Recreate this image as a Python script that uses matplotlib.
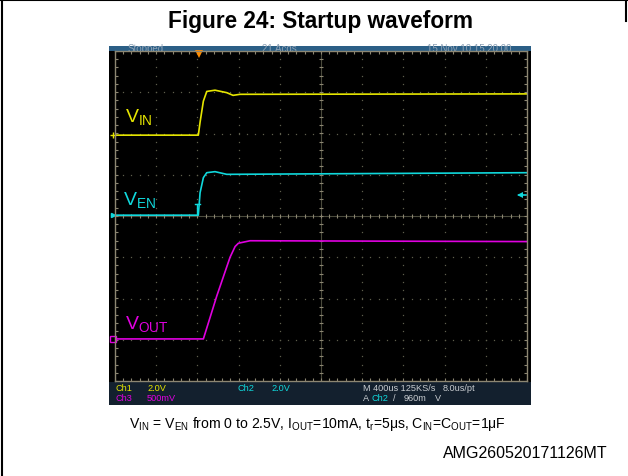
import numpy as np
import matplotlib.pyplot as plt
from matplotlib.patches import Rectangle

plt.rcParams['font.family'] = ['Liberation Sans', 'DejaVu Sans']
plt.rcParams['mathtext.default'] = 'regular'

# scope settings
time_per_div = 400.0          # us / div
t_left = -816.0               # us at left edge of the graticule (trigger = 0)
ch1_scale, ch2_scale, ch3_scale = 2.0, 2.0, 0.5     # V / div
ch1_gnd, ch2_gnd, ch3_gnd = 1.96, 0.02, -2.98       # ground marker position, div
trig_level = 0.96             # V on Ch2

# traces (time in us, volts)
vin_t = [-816, -7, 10, 42, 75, 155, 269, 330, 398, 3184]
vin_v = [0.0, 0.0, 0.63, 1.65, 2.12, 2.18, 2.06, 1.93, 1.98, 2.0]

ven_t = [-816, -7, 10, 42, 75, 155, 269, 3184]
ven_v = [0.0, 0.0, 1.09, 1.82, 2.06, 2.11, 1.98, 2.06]

vout_t = [-816, 42, 172, 301, 350, 382, 495, 3184]
vout_v = [0.0, 0.0, 0.52, 0.99, 1.12, 1.16, 1.19, 1.18]

YEL, CYA, MAG = '#e6e600', '#10d8dc', '#e000e0'


def tdiv(t):
    return (np.asarray(t, dtype=float) - t_left) / time_per_div


def vdiv(v, scale, gnd):
    return gnd + np.asarray(v, dtype=float) / scale


fig = plt.figure(figsize=(6.28, 4.77), dpi=100)

# page layer in pixel coordinates
bg = fig.add_axes([0, 0, 1, 1])
bg.set_xlim(0, 628)
bg.set_ylim(477, 0)
bg.axis('off')

bg.plot([2, 2], [0, 477], color='black', lw=1.5)
bg.plot([0, 628], [1, 1], color='black', lw=1.5)
bg.plot([626, 626], [0, 22], color='black', lw=1.5)

bg.text(321, 28, 'Figure 24: Startup waveform', ha='center', va='baseline',
        fontsize=16.3, fontweight='bold')

# scope screen
bg.add_patch(Rectangle((109, 47), 422, 359, facecolor='black', edgecolor='none'))
header = Rectangle((109, 47), 422, 4.5, facecolor='#2b5f86', edgecolor='none')
bg.add_patch(header)
bg.add_patch(Rectangle((109, 383), 422, 23, facecolor='#13202e', edgecolor='none'))

for x, s in [(128, 'Stopped'), (262, '21 Acqs'), (427, '15 Nov 10 15:20:00')]:
    t = bg.text(x, 51.5, s, fontsize=7, color='#8ea2b6', va='baseline')
    t.set_clip_path(header)

# status bar
sfs = 6.6
bg.text(115, 389, 'Ch1', color=YEL, fontsize=sfs, va='center')
bg.text(147, 389, '2.0V', color=YEL, fontsize=sfs, va='center')
bg.text(115, 399, 'Ch3', color=MAG, fontsize=sfs, va='center')
bg.text(147, 399, '500mV', color=MAG, fontsize=sfs, va='center')
bg.text(237, 389, 'Ch2', color=CYA, fontsize=sfs, va='center')
bg.text(271, 389, '2.0V', color=CYA, fontsize=sfs, va='center')
bg.text(363, 389, 'M 400us 125KS/s', color='#c8ccd0', fontsize=sfs, va='center')
bg.text(443, 389, '8.0us/pt', color='#c8ccd0', fontsize=sfs, va='center')
bg.text(363, 399, 'A', color='#c8ccd0', fontsize=sfs, va='center')
bg.text(372, 399, 'Ch2', color=CYA, fontsize=sfs, va='center')
bg.text(393, 399, '/', color='#c8ccd0', fontsize=sfs, va='center')
bg.text(404, 399, '960m', color='#c8ccd0', fontsize=sfs, va='center')
bg.text(435, 399, 'V', color='#c8ccd0', fontsize=sfs, va='center')

caption = ('$V_{IN}$ = $V_{EN}$ from 0 to 2.5V, $I_{OUT}$=10mA, $t_r$=5\u03bcs, '
           '$C_{IN}$=$C_{OUT}$=1\u03bcF')
bg.text(129, 428, caption, fontsize=10.1, va='baseline')
bg.text(608, 458, 'AMG260520171126MT', fontsize=11.5, ha='right', va='baseline')

# graticule
ax = fig.add_axes([115 / 628, 1 - 382 / 477, 412 / 628, 330 / 477])
ax.set_facecolor('black')
ax.set_xlim(0, 10)
ax.set_ylim(-4, 4)
ax.set_xticks([])
ax.set_yticks([])
for sp in ax.spines.values():
    sp.set_color('#8c8672')
    sp.set_linewidth(1)

grid_c = '#5e5e4c'
ys = np.arange(-4, 4.001, 0.2)
xs = np.arange(0, 10.001, 0.2)
for k in range(1, 10):
    if k != 5:
        ax.plot(np.full_like(ys, k), ys, ls='none', marker='s', ms=0.9, mew=0, color=grid_c)
for k in range(-3, 4):
    if k != 0:
        ax.plot(xs, np.full_like(xs, k), ls='none', marker='s', ms=0.9, mew=0, color=grid_c)

ax.axhline(0, color='#4a4a3c', lw=0.8)
ax.axvline(5, color='#4a4a3c', lw=0.8)
tick_c = '#8c8672'
ax.vlines(xs, -0.06, 0.06, color=tick_c, lw=0.8)
ax.hlines(ys, 4.94, 5.06, color=tick_c, lw=0.8)
ax.vlines(xs, 3.93, 4, color=tick_c, lw=0.8)
ax.vlines(xs, -4, -3.93, color=tick_c, lw=0.8)
ax.hlines(ys, 0, 0.07, color=tick_c, lw=0.8)
ax.hlines(ys, 9.93, 10, color=tick_c, lw=0.8)

# traces
ax.plot(tdiv(vin_t), vdiv(vin_v, ch1_scale, ch1_gnd), color=YEL, lw=1.2)
ax.plot(tdiv(ven_t), vdiv(ven_v, ch2_scale, ch2_gnd), color=CYA, lw=1.2)
ax.plot(tdiv(vout_t), vdiv(vout_v, ch3_scale, ch3_gnd), color=MAG, lw=1.2)

# markers
trig_x = tdiv(0)
ax.plot(trig_x, 3.92, marker='v', color='#ff8c00', ms=6, mew=0, clip_on=False)
ax.plot(-0.06, ch1_gnd, marker='+', color=YEL, ms=4, clip_on=False)
ax.plot(-0.06, ch2_gnd, marker='>', color=CYA, ms=3, clip_on=False)
ax.plot(-0.06, ch3_gnd, marker='s', color=MAG, ms=4, mfc='none', mew=1, clip_on=False)
tl = ch2_gnd + trig_level / ch2_scale
ax.plot([9.8, 9.97], [tl, tl], color=CYA, lw=1.2)
ax.plot(9.82, tl, marker='<', color=CYA, ms=5, mew=0)
ax.plot([trig_x - 0.04, trig_x - 0.04], [ch2_gnd + 0.03, ch2_gnd + 0.27], color=CYA, lw=1)
ax.plot([trig_x - 0.1, trig_x + 0.02], [ch2_gnd + 0.27, ch2_gnd + 0.27], color=CYA, lw=1)

# channel labels
ax.text(0.24, 2.30, '$V_{IN}$', color=YEL, fontsize=14, va='baseline')
ax.text(0.19, 0.29, '$V_{EN}$', color=CYA, fontsize=14, va='baseline')
ax.text(0.24, -2.72, '$V_{OUT}$', color=MAG, fontsize=14, va='baseline')

fig.savefig('out.png', dpi=100)
plt.close(fig)
